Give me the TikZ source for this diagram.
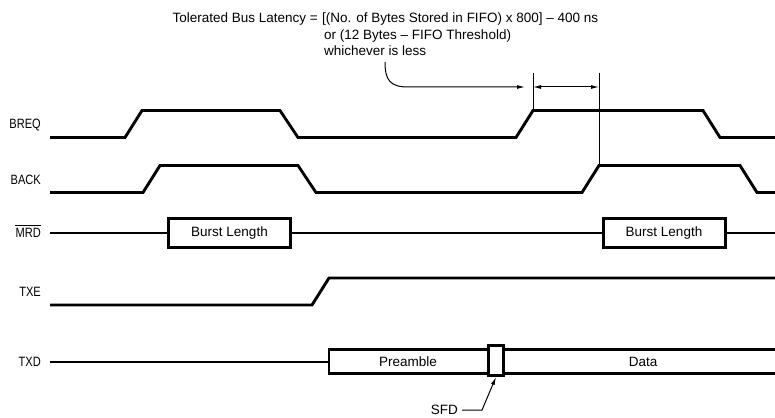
\documentclass[tikz,border=0pt]{standalone}
\usepackage{fontspec}
\setmainfont{Liberation Sans}
\newfontfamily\lblfont[FakeStretch=0.82]{Liberation Sans}
\usetikzlibrary{arrows.meta}
\begin{document}
\begin{tikzpicture}[x=1pt,y=-1pt,
  sig/.style={line width=2.9pt,line join=miter},
  thin/.style={line width=1pt},
  arr/.style={line width=1pt,-{Latex[length=8pt,width=4pt]}},
  darr/.style={line width=1pt,{Latex[length=8pt,width=4pt]}-{Latex[length=8pt,width=4pt]}},
  lbl/.style={anchor=east,inner sep=0pt,font=\lblfont\fontsize{13.5}{16}\selectfont},
  txt/.style={inner sep=0pt,font=\fontsize{13.5}{16}\selectfont},
  burst/.style={draw,line width=3pt,minimum width=122pt,minimum height=29pt,inner sep=0pt,font=\fontsize{13.5}{16}\selectfont},
  sfdbox/.style={draw,fill=white,line width=3pt,minimum width=15pt,minimum height=30pt,inner sep=0pt}]
\useasboundingbox (0,0) rectangle (775,417);
% title
\node[txt,anchor=base east] (t0) at (318,23) {Tolerated Bus Latency =};
\node[txt,anchor=base west] (t1) at (322,23) {[(No. of Bytes Stored in FIFO) x 800] – 400 ns};
\node[txt,anchor=base west] (t2) at (324,40) {or (12 Bytes – FIFO Threshold)};
\node[txt,anchor=base west] (t3) at (324,56) {whichever is less};
% labels
\node[lbl] (lbreq) at (41,125) {BREQ};
\node[lbl] (lback) at (41,180) {BACK};
\node[lbl] (lmrd) at (41,233) {MRD};
\draw[line width=1pt] ([yshift=2.5pt]lmrd.north west) -- ([yshift=2.5pt]lmrd.north east);
\node[lbl] (ltxe) at (41,292) {TXE};
\node[lbl] (ltxd) at (41,362) {TXD};
% BREQ
\coordinate (rq1) at (533,110.5);
\draw[sig] (50,137.5) -- (125,137.5) -- (142,110.5) -- (280,110.5) -- (298,137.5) -- (516,137.5) -- (rq1) -- (703,110.5) -- (720,137.5) -- (776,137.5);
% BACK
\coordinate (ak1) at (599,165.5);
\draw[sig] (50,192.5) -- (143,192.5) -- (160,165.5) -- (298,165.5) -- (316,192.5) -- (582,192.5) -- (ak1) -- (740,165.5) -- (757,192.5) -- (776,192.5);
% latency markers
\coordinate (v1) at (533,73);
\coordinate (v2) at (599,73);
\draw[thin] (rq1) -- (v1);
\draw[thin] (ak1) -- (v2);
\coordinate (d1) at (533,87);
\coordinate (d2) at (599,87);
\draw[darr] (d1) -- (d2);
\coordinate (c0) at (385,62);
\coordinate (c1) at (525,87);
\draw[arr] (c0) .. controls (385,80) and (390,87) .. (408,87) -- (c1);
% MRD
\node[burst] (b1) at (229.5,233) {Burst Length};
\node[burst] (b2) at (664,233) {Burst Length};
\coordinate (m0) at (50,233);
\coordinate (m1) at (776,233);
\draw[sig] (m0) -- (b1.west);
\draw[sig] (b1.east) -- (b2.west);
\draw[sig] (b2.east) -- (m1);
% TXE
\draw[sig] (50,305) -- (312,305) -- (329,278) -- (776,278);
% TXD
\coordinate (x0) at (50,362);
\coordinate (x1) at (329,362);
\draw[sig] (x0) -- (x1);
\draw[sig] (776,349.5) -- (329,349.5) -- (329,373.5) -- (776,373.5);
\node[txt] (pre) at (408,362) {Preamble};
\node[txt] (dat) at (643,362) {Data};
\node[sfdbox] (sfd) at (496,360.5) {};
% SFD label
\node[txt,anchor=east] (sfdl) at (458,410) {SFD};
\coordinate (s1) at (482,410);
\draw[arr] ([xshift=4pt]sfdl.east) -- (s1) -- (sfd.south);
\end{tikzpicture}
\end{document}
